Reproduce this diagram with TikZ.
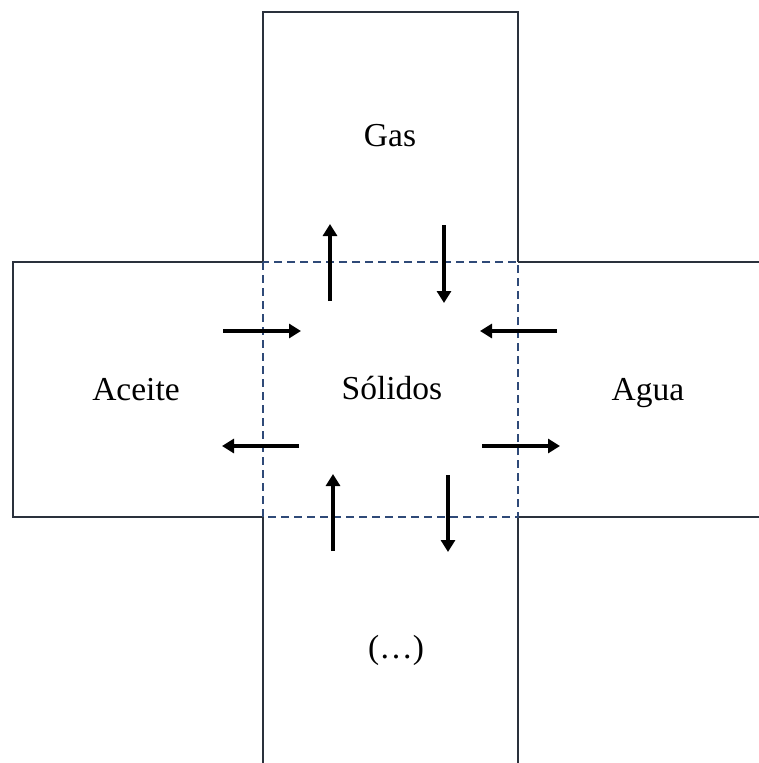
\documentclass[tikz,border=0pt]{standalone}
\usepackage{fontspec}
\setmainfont{Liberation Serif}
\usetikzlibrary{arrows.meta}
\definecolor{framecol}{HTML}{2A313C}
\definecolor{dashcol}{HTML}{2F4A78}
\begin{document}
\begin{tikzpicture}[x=1pt,y=-1pt,
  frame/.style={draw=framecol,line width=1.2pt},
  sep/.style={draw=dashcol,line width=1.2pt,dash pattern=on 8pt off 5pt},
  flow/.style={line width=4.2pt,-{Triangle[width=14pt,length=12pt]}},
  lbl/.style={font=\fontsize{33.5}{40}\selectfont,anchor=base,inner sep=0pt}]
\useasboundingbox (0,0) rectangle (759,763);
% boxes
\draw[frame] (263,262) -- (263,12) -- (518,12) -- (518,262);
\draw[frame] (263,262) -- (13,262) -- (13,517) -- (263,517);
\draw[frame] (518,262) -- (759,262);
\draw[frame] (518,517) -- (759,517);
\draw[frame] (263,517) -- (263,763);
\draw[frame] (518,517) -- (518,763);
\draw[sep] (263,262) rectangle (518,517);
% labels
\node[lbl] (gas) at (390,146) {Gas};
\node[lbl] (aceite) at (136,400) {Aceite};
\node[lbl] (solidos) at (392,399) {Sólidos};
\node[lbl] (agua) at (648,400) {Agua};
\node[lbl] (otros) at (396,658) {(…)};
% exchange arrows
\draw[flow] (330,301) -- (330,224);
\draw[flow] (444,225) -- (444,303);
\draw[flow] (223,331) -- (301,331);
\draw[flow] (557,331) -- (480,331);
\draw[flow] (299,446) -- (222,446);
\draw[flow] (482,446) -- (560,446);
\draw[flow] (333,551) -- (333,474);
\draw[flow] (448,475) -- (448,552);
\end{tikzpicture}
\end{document}
